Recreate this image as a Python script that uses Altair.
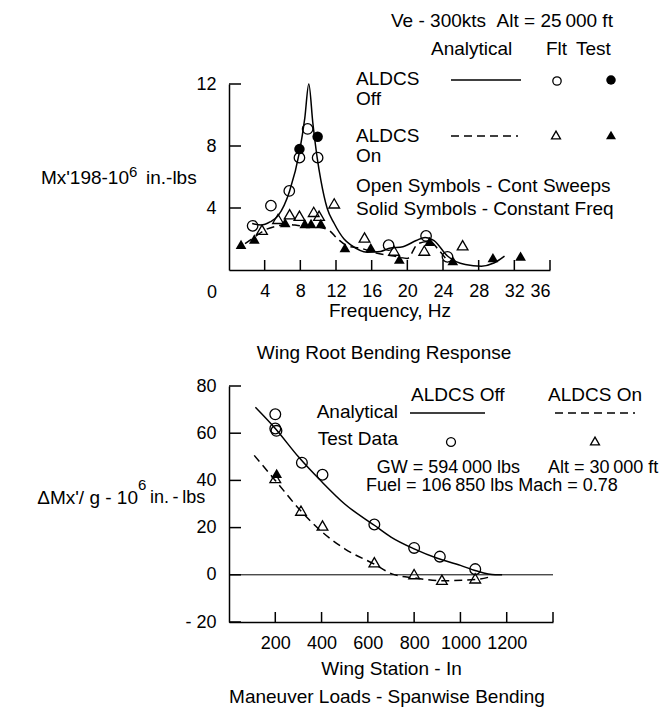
import altair as alt
import pandas as pd

FONT = "Liberation Sans"
FS = 19

# ---------------- Top chart: Wing Root Bending Response ----------------
freq_ticks = [4, 8, 12, 16, 20, 24, 28, 32, 36]
mx_ticks = [4, 8, 12]

# Analytical, ALDCS Off (solid)
off_an_f = [2.6, 3.6, 4.6, 5.5, 6.8, 7.9, 8.5, 8.95, 9.4, 9.9, 10.3, 11.0, 11.8, 12.9, 13.7, 15.5, 17.0, 18.0, 19.5, 21.0, 22.0, 23.0, 24.5, 26.5, 28.3, 29.7, 30.9]
off_an_v = [3.0, 2.9, 3.1, 3.5, 5.1, 7.6, 9.8, 12.0, 9.5, 7.2, 5.8, 4.0, 3.0, 2.0, 1.6, 1.15, 1.2, 1.4, 1.5, 1.9, 2.1, 1.9, 0.9, 0.35, 0.25, 0.45, 0.9]
# Analytical, ALDCS On (dashed)
on_an_f = [1.8, 2.8, 4.1, 5.5, 6.5, 8.0, 9.5, 11.1, 12.2, 13.3, 14.8, 16.5, 18.5, 20.0, 21.2, 22.5, 23.5, 24.5]
on_an_v = [1.7, 2.1, 2.6, 2.85, 2.95, 2.85, 2.8, 2.6, 2.0, 1.55, 1.4, 1.1, 0.9, 0.75, 1.7, 1.85, 1.3, 0.6]
# Flight (open circles), ALDCS Off
off_flt_f = [2.65, 4.7, 6.76, 7.9, 8.82, 9.94, 17.9, 22.1, 24.5]
off_flt_v = [2.85, 4.15, 5.1, 7.25, 9.1, 7.25, 1.6, 2.2, 0.85]
# Test (solid circles), ALDCS Off
off_tst_f = [7.9, 9.94]
off_tst_v = [7.8, 8.6]
# Flight (open triangles), ALDCS On
on_flt_f = [3.7, 5.5, 6.8, 7.9, 9.5, 10.1, 11.8, 15.2, 18.5, 21.9, 26.2]
on_flt_v = [2.6, 3.3, 3.6, 3.5, 3.75, 3.5, 4.3, 2.1, 1.25, 1.25, 1.6]
# Test (solid triangles), ALDCS On
on_tst_f = [1.35, 2.84, 6.3, 8.5, 9.2, 10.3, 13.0, 15.9, 19.1, 22.5, 25.1, 29.6, 32.7]
on_tst_v = [1.65, 2.0, 3.05, 3.0, 3.0, 3.0, 1.45, 1.45, 0.7, 1.85, 0.6, 0.8, 0.9]

# ---------------- Bottom chart: Maneuver Loads ----------------
ws_labels = [200, 400, 600, 800, 1000, 1200]
ws_ticks = [200, 400, 600, 800, 1000, 1200, 1400]
dm_ticks = [-20, 0, 20, 40, 60, 80]

b_off_an_s = [114, 200, 300, 400, 500, 628, 700, 800, 900, 1000, 1067, 1150, 1180]
b_off_an_v = [71, 62, 50, 39.5, 30, 21, 16, 11, 7, 4, 1.7, 0.0, 0.0]
b_on_an_s = [109, 200, 311, 404, 500, 628, 707, 800, 920, 1064, 1140]
b_on_an_v = [50.6, 40, 27, 18, 11, 4.5, 0.3, -1.3, -2.5, -2.0, -0.6]
b_off_s = [200, 200, 205, 315, 404, 628, 800, 911, 1064]
b_off_v = [68, 62, 61, 47.5, 42.4, 21.3, 11.4, 7.7, 2.4]
b_on_s = [200, 311, 404, 628, 800, 920, 1064]
b_on_v = [41, 27.2, 20.9, 5.3, 0.3, -2.1, -1.5]
b_on_fill_s = [206]
b_on_fill_v = [43]

ONE = pd.DataFrame({"a": [0]})


def df(xs, ys):
    return pd.DataFrame({"x": xs, "y": ys})


def txt(s, x, y, align="left", size=FS):
    return alt.Chart(ONE).mark_text(
        text=s, align=align, baseline="middle", font=FONT, fontSize=size, color="black"
    ).encode(x=alt.value(x), y=alt.value(y))


def seg(x1, x2, y, dash=None):
    kw = dict(color="black", strokeWidth=1.5)
    if dash:
        kw["strokeDash"] = dash
    return alt.Chart(ONE).mark_rule(**kw).encode(x=alt.value(x1), x2=alt.value(x2), y=alt.value(y))


def sym(shape, filled, x, y, size=90):
    return alt.Chart(ONE).mark_point(
        shape=shape, filled=filled, color="black", size=size, strokeWidth=1.3, opacity=1
    ).encode(x=alt.value(x), y=alt.value(y))


def bound(x, y1, y2):
    return alt.Chart(ONE).mark_rule(color="white", strokeWidth=1).encode(
        x=alt.value(x), y=alt.value(y1), y2=alt.value(y2)
    )


DASH = [8, 5]
TW, TH = 321, 186
BW, BH = 324, 236

xt = alt.X("x:Q", scale=alt.Scale(domain=[0, 36], nice=False, zero=False),
           axis=alt.Axis(values=freq_ticks, title="Frequency, Hz", labelPadding=12, titlePadding=1))
yt = alt.Y("y:Q", scale=alt.Scale(domain=[0, 12], nice=False),
           axis=alt.Axis(values=mx_ticks, title="", labelPadding=13))


def tlayer(xs, ys):
    return alt.Chart(df(xs, ys))


top_layers = [
    bound(-228, -83, 282),
    tlayer(off_an_f, off_an_v).mark_line(color="black", strokeWidth=1.5, interpolate="monotone").encode(x=xt, y=yt),
    tlayer(on_an_f, on_an_v).mark_line(color="black", strokeWidth=1.5, strokeDash=DASH, interpolate="monotone").encode(x=xt, y=yt),
    tlayer(off_flt_f, off_flt_v).mark_point(shape="circle", filled=False, color="black", size=110, strokeWidth=1.3, opacity=1).encode(x=xt, y=yt),
    tlayer(off_tst_f, off_tst_v).mark_point(shape="circle", filled=True, color="black", size=110, opacity=1).encode(x=xt, y=yt),
    tlayer(on_flt_f, on_flt_v).mark_point(shape="triangle-up", filled=False, color="black", size=115, strokeWidth=1.3, opacity=1).encode(x=xt, y=yt),
    tlayer(on_tst_f, on_tst_v).mark_point(shape="triangle-up", filled=True, color="black", size=115, opacity=1).encode(x=xt, y=yt),
    # inward ticks
    alt.Chart(pd.DataFrame({"x": freq_ticks})).mark_rule(color="black", strokeWidth=1.5).encode(x=xt, y=alt.value(TH), y2=alt.value(TH - 10)),
    alt.Chart(pd.DataFrame({"y": mx_ticks})).mark_rule(color="black", strokeWidth=1.5).encode(y=yt, x=alt.value(0), x2=alt.value(12)),
    txt("0", -17, TH + 23, align="center", size=18),
    # y title with superscript
    txt("Mx'198-10", -100, 94, align="right"),
    txt("6", -100, 88, size=15),
    txt("in.-lbs", -83, 94),
    # legend block
    txt("Ve - 300kts\u00a0\u00a0Alt = 25\u2009000 ft", 162, -63),
    txt("Analytical", 202, -35),
    txt("Flt", 317, -35),
    txt("Test", 347, -35),
    txt("ALDCS", 127, -5),
    txt("Off", 127, 15),
    seg(222, 292, -4),
    sym("circle", False, 328, -3, 70),
    sym("circle", True, 382, -4, 90),
    txt("ALDCS", 127, 52),
    txt("On", 127, 72),
    seg(222, 289, 52, DASH),
    sym("triangle-up", False, 327, 51, 80),
    sym("triangle-up", True, 382, 51, 100),
    txt("Open Symbols - Cont Sweeps", 127, 102),
    txt("Solid Symbols - Constant Freq", 127, 125),
    txt("Wing Root Bending Response", 155, 269, align="center"),
]
top = alt.layer(*top_layers).properties(width=TW, height=TH)

xb = alt.X("x:Q", scale=alt.Scale(domain=[0, 1400], nice=False, zero=False),
           axis=alt.Axis(values=ws_labels, format="d", title="Wing Station - In", labelPadding=12, titlePadding=7))
yb = alt.Y("y:Q", scale=alt.Scale(domain=[-20, 80], nice=False),
           axis=alt.Axis(values=dm_ticks, title="", labelPadding=13,
                         labelExpr="datum.value < 0 ? '- ' + abs(datum.value) : datum.label"))

bottom_layers = [
    bound(-226, -18.5, 320),
    alt.Chart(pd.DataFrame({"y": [0]})).mark_rule(color="black", strokeWidth=1).encode(y=yb),
    tlayer(b_off_an_s, b_off_an_v).mark_line(color="black", strokeWidth=1.5, interpolate="monotone").encode(x=xb, y=yb),
    tlayer(b_on_an_s, b_on_an_v).mark_line(color="black", strokeWidth=1.5, strokeDash=DASH, interpolate="monotone").encode(x=xb, y=yb),
    tlayer(b_off_s, b_off_v).mark_point(shape="circle", filled=False, color="black", size=115, strokeWidth=1.3, opacity=1).encode(x=xb, y=yb),
    tlayer(b_on_s, b_on_v).mark_point(shape="triangle-up", filled=False, color="black", size=115, strokeWidth=1.3, opacity=1).encode(x=xb, y=yb),
    tlayer(b_on_fill_s, b_on_fill_v).mark_point(shape="triangle-up", filled=True, color="black", size=115, opacity=1).encode(x=xb, y=yb),
    alt.Chart(pd.DataFrame({"x": ws_ticks})).mark_rule(color="black", strokeWidth=1.5).encode(x=xb, y=alt.value(BH), y2=alt.value(BH - 10)),
    alt.Chart(pd.DataFrame({"y": dm_ticks})).mark_rule(color="black", strokeWidth=1.5).encode(y=yb, x=alt.value(0), x2=alt.value(12)),
    # y title with superscript
    txt("\u0394Mx'/\u00a0g\u00a0-\u00a010", -91, 112, align="right"),
    txt("6", -91, 99, size=15),
    txt("in.\u2009-\u2009lbs", -79, 112, size=18),
    # legend block
    txt("ALDCS Off", 182, 9),
    txt("ALDCS On", 319, 9),
    txt("Analytical", 169, 26, align="right"),
    seg(181, 256, 27),
    seg(326, 406, 27, DASH),
    txt("Test Data", 169, 53, align="right"),
    sym("circle", False, 222, 56, 80),
    sym("triangle-up", False, 366, 55, 80),
    txt("GW = 594\u2009000 lbs", 291, 82, align="right", size=18),
    txt("Alt = 30\u2009000 ft", 319, 82, size=18),
    txt("Fuel = 106\u2009850 lbs Mach = 0.78", 137, 100, size=18),
    txt("Maneuver Loads - Spanwise Bending", 158, 311, align="center"),
]
bottom = alt.layer(*bottom_layers).properties(width=BW, height=BH)

chart = alt.vconcat(top, bottom, spacing=0).properties(
    padding={"left": 0, "top": 0, "right": 0, "bottom": 0}, background="white"
).configure_view(strokeWidth=0).configure_axis(
    grid=False, ticks=False, tickSize=0, domainColor="black", domainWidth=1.5,
    labelFont=FONT, labelFontSize=18, labelColor="black",
    titleFont=FONT, titleFontSize=FS, titleFontWeight="normal", titleColor="black",
)

chart.save("out.html", embed_options={"renderer": "svg", "actions": False})
